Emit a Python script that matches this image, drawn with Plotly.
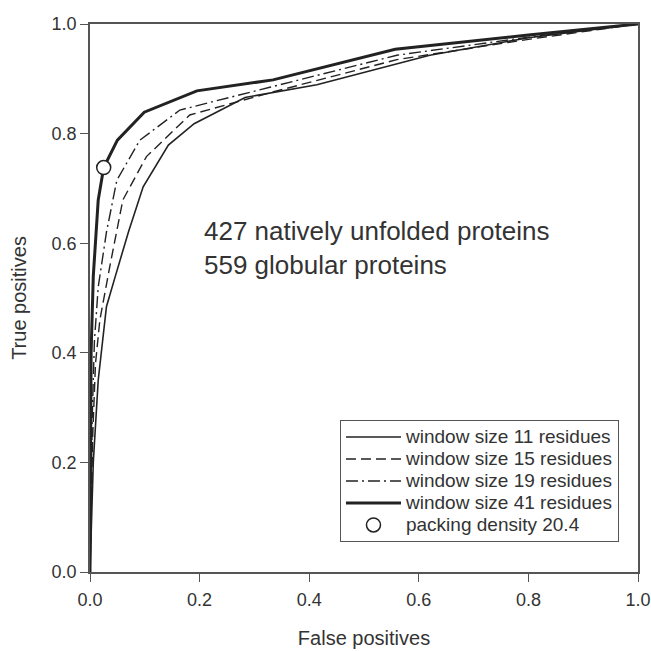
import plotly.graph_objects as go

# ROC data (false positive rate, true positive rate)
fp_w11 = [0.0, 0.006, 0.015, 0.030, 0.046, 0.070, 0.097, 0.143, 0.190, 0.283, 0.414, 0.620, 0.800, 1.0]
tp_w11 = [0.0, 0.200, 0.350, 0.484, 0.539, 0.620, 0.703, 0.779, 0.818, 0.866, 0.889, 0.943, 0.975, 1.0]

fp_w15 = [0.0, 0.005, 0.010, 0.018, 0.036, 0.060, 0.103, 0.182, 0.330, 0.560, 0.800, 1.0]
tp_w15 = [0.0, 0.250, 0.380, 0.460, 0.557, 0.679, 0.758, 0.834, 0.875, 0.935, 0.972, 1.0]

fp_w19 = [0.0, 0.004, 0.008, 0.015, 0.030, 0.049, 0.091, 0.164, 0.330, 0.560, 0.800, 1.0]
tp_w19 = [0.0, 0.280, 0.420, 0.520, 0.620, 0.715, 0.788, 0.843, 0.885, 0.943, 0.976, 1.0]

fp_w41 = [0.0, 0.002, 0.006, 0.015, 0.025, 0.050, 0.099, 0.195, 0.334, 0.557, 0.800, 1.0]
tp_w41 = [0.0, 0.400, 0.540, 0.679, 0.738, 0.788, 0.839, 0.878, 0.898, 0.954, 0.980, 1.0]

fp_pack = [0.025]
tp_pack = [0.738]

names = ["window size 11 residues", "window size 15 residues",
         "window size 19 residues", "window size 41 residues",
         "packing density 20.4"]
annotation_lines = ["427 natively unfolded proteins", "559 globular proteins"]
tick_vals = [0, 0.2, 0.4, 0.6, 0.8, 1.0]
tick_text = ["0.0", "0.2", "0.4", "0.6", "0.8", "1.0"]

ink = "#222222"
txt = "#333333"
font_family = "Liberation Sans, Arial, sans-serif"


def lg(name):
    return '<span style="font-size:19px">' + name + '</span>'


fig = go.Figure()
fig.add_trace(go.Scatter(x=fp_w11, y=tp_w11, mode="lines", name=lg(names[0]),
                         line=dict(color=ink, width=1.6)))
fig.add_trace(go.Scatter(x=fp_w15, y=tp_w15, mode="lines", name=lg(names[1]),
                         line=dict(color=ink, width=1.4, dash="10px,5px")))
fig.add_trace(go.Scatter(x=fp_w19, y=tp_w19, mode="lines", name=lg(names[2]),
                         line=dict(color=ink, width=1.4, dash="12px,4px,2px,4px")))
fig.add_trace(go.Scatter(x=fp_w41, y=tp_w41, mode="lines", name=lg(names[3]),
                         line=dict(color=ink, width=3)))
fig.add_trace(go.Scatter(x=fp_pack, y=tp_pack, mode="markers", name=lg(names[4]),
                         marker=dict(symbol="circle", size=14, color="white",
                                     line=dict(color=ink, width=1.5))))

fig.add_annotation(x=0.204, y=0.591, xref="x", yref="y", xanchor="left", yanchor="middle",
                   text="<br>".join(annotation_lines), showarrow=False, align="left",
                   font=dict(size=26, color=txt, family=font_family))

axis_common = dict(range=[0, 1], tickmode="array", tickvals=tick_vals,
                   ticktext=tick_text, automargin=False,
                   ticks="outside", ticklen=8, tickwidth=1.2, tickcolor="#555555",
                   showline=True, linecolor="#555555", linewidth=1.5, mirror=True,
                   showgrid=False, zeroline=False,
                   tickfont=dict(size=18, color=txt, family=font_family))

fig.update_xaxes(**axis_common, ticklabelstandoff=3,
                 title=dict(text="False positives", standoff=22,
                            font=dict(size=20, color=txt, family=font_family)))
fig.update_yaxes(**axis_common,
                 title=dict(text="True positives", standoff=20,
                            font=dict(size=20, color=txt, family=font_family)))

fig.update_layout(
    width=651, height=651,
    margin=dict(l=90, r=13, t=24, b=79),
    plot_bgcolor="white", paper_bgcolor="white",
    font=dict(family=font_family, color=txt),
    showlegend=True,
    legend=dict(x=0.9653, y=0.0547, xanchor="right", yanchor="bottom",
                bordercolor="#555555", borderwidth=1, bgcolor="white",
                font=dict(size=14.6, color=txt, family=font_family),
                tracegroupgap=0, itemwidth=55),
)

# remove the browser's default 8 px body margin so the 651 px figure fills the window
fig.write_html("out.html",
               config={"displayModeBar": False},
               post_script="document.body.style.margin='0';document.body.style.overflow='hidden';")
